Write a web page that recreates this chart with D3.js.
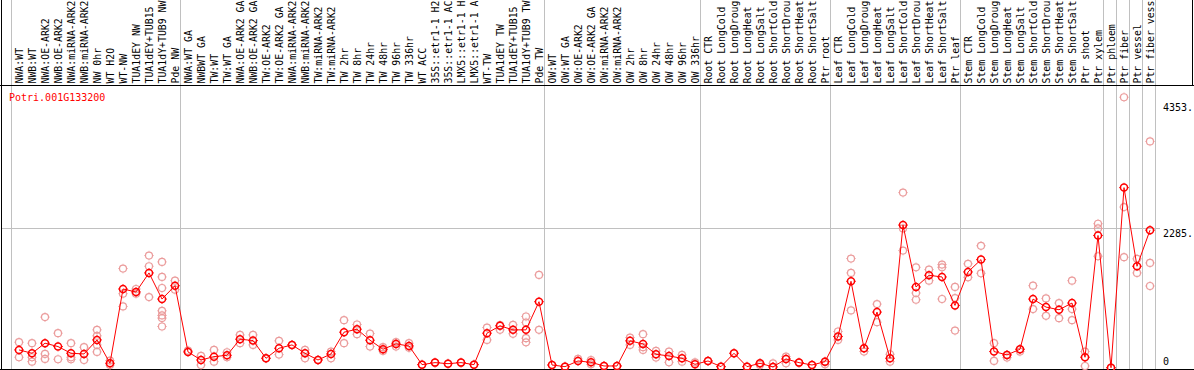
<!DOCTYPE html>
<html>
<head>
<meta charset="utf-8">
<script src="https://cdn.jsdelivr.net/npm/d3@7"></script>
<style>
  body { margin: 0; background: #fff; }
  svg { display: block; }
  text { font-family: "DejaVu Sans Mono", monospace; font-size: 10px; }
</style>
</head>
<body>
<div id="chart"></div>
<script>
const geneId = "Potri.001G133200";

// sample labels as they are printed in the header (cut to 14 characters)
const samples = [
  "NWA:WT", "NWB:WT", "NWA:OE-ARK2", "NWB:OE-ARK2", "NWA:miRNA-ARK2", "NWB:miRNA-ARK2",
  "NW 0hr", "WT H2O", "WT-NW", "TUA1dEY NW", "TUA1dEY+TUB15", "TUA1dY+TUB9 NW", "Pde NW",
  "NWA:WT GA", "NWBWT GA", "TW:WT", "TW:WT GA", "NWA:OE-ARK2 GA", "NWB:OE-ARK2 GA",
  "TW:OE-ARK2", "TW:OE-ARK2 GA", "NWA:miRNA-ARK2", "NWB:miRNA-ARK2", "TW:miRNA-ARK2",
  "TW:miRNA-ARK2", "TW 2hr", "TW 8hr", "TW 24hr", "TW 48hr", "TW 96hr", "TW 336hr", "WT ACC",
  "35S::etr1-1 H2", "35S::etr1-1 AC", "LMX5::etr1-1 H", "LMX5::etr1-1 A", "WT-TW",
  "TUA1dEY TW", "TUA1dEY+TUB15", "TUA1dY+TUB9 TW", "Pde TW",
  "OW:WT", "OW:WT GA", "OW:OE-ARK2", "OW:OE-ARK2 GA", "OW:miRNA-ARK2", "OW:miRNA-ARK2",
  "OW 2hr", "OW 8hr", "OW 24hr", "OW 48hr", "OW 96hr", "OW 336hr",
  "Root CTR", "Root LongCold", "Root LongDroug", "Root LongHeat", "Root LongSalt",
  "Root ShortCold", "Root ShortDrou", "Root ShortHeat", "Root ShortSalt", "Ptr root",
  "Leaf CTR", "Leaf LongCold", "Leaf LongDroug", "Leaf LongHeat", "Leaf LongSalt",
  "Leaf ShortCold", "Leaf ShortDrou", "Leaf ShortHeat", "Leaf ShortSalt", "Ptr leaf",
  "Stem CTR", "Stem LongCold", "Stem LongDroug", "Stem LongHeat", "Stem LongSalt",
  "Stem ShortCold", "Stem ShortDrou", "Stem ShortHeat", "Stem ShortSalt", "Ptr shoot",
  "Ptr xylem", "Ptr phloem", "Ptr fiber", "Ptr vessel", "Ptr fiber vess"
];

const means = [
  296, 241, 406, 351, 241, 230, 460, 77, 1293, 1244, 1556, 1128, 1347,
  263, 131, 186, 208, 471, 449, 159, 323, 378, 241, 131, 230, 586, 635, 455, 307, 394, 361,
  55, 88, 71, 88, 55, 570, 690, 624, 624, 1085,
  49, 22, 115, 93, 33, 33, 444, 394, 225, 197, 159, 60,
  115, 22, 241, 22, 77, 18, 148, 88, 49, 104,
  515, 1419, 323, 915, 159, 2339, 1326, 1517, 1490, 1024,
  1572, 1774, 269, 214, 307, 1128, 997, 953, 1063, 176,
  2169, 5, 2952, 1665, 2256
];

const replicates = [
  [422, 176], [406, 176, 104], [833, 230, 148], [570, 143], [406, 176, 143], [340, 131],
  [624, 526, 378, 263], [121, 49], [1627, 1216, 1007], [1293, 1216], [1840, 1665, 1161],
  [1736, 1490, 1309, 936, 860, 817, 679], [1429, 1282],
  [284], [197, 49], [296, 104], [258, 176], [542, 406], [542, 378], [159], [444, 219], [378],
  [296, 159], [131], [268, 159], [783, 406], [712, 553], [564, 351], [340, 280], [422, 351],
  [406, 330], [55], [88], [71], [88], [55], [662, 460], [700, 624], [707, 560],
  [843, 745, 488, 420], [1523, 624],
  [49], [22], [148], [131, 60], [33], [33], [498, 378], [553, 296, 340], [279, 170], [269, 93],
  [214, 104], [93],
  [115], [22], [241], [22], [77, 49], [18, 77], [186, 77], [88], [49], [104, 60],
  [597, 460], [1791, 1556, 942], [323, 269], [1046, 750], [225, 104], [2870, 2284, 1922],
  [1648, 1227, 1117], [1610, 1429], [1692, 1648, 1129], [1326, 1145, 613],
  [1704, 1484], [2000, 1550], [406, 115], [214, 170], [307, 269], [1347, 964], [1139, 854],
  [1063, 816], [1429, 964, 783], [269, 33],
  [2361, 2284, 1829], [5], [4431, 2634, 1813], [1786, 1556], [3708, 1720, 1342]
];

// sample indices where a grey separator is drawn
const groupBreaks = [0, 13, 41, 53, 63, 73, 84, 85, 86, 87, 88];

const yTicks = [0, 2285, 4353];
const yTickLabels = ["0", "2285.", "4353."];

const width = 1194;
const height = 370;
const headerBottom = 85;

const svg = d3.select("#chart")
  .append("svg")
  .attr("width", width)
  .attr("height", height);

// column scale: 88 columns of 13px
const x = d3.scaleLinear()
  .domain([0, samples.length])
  .range([11, 1155]);

const y = d3.scaleLinear()
  .domain([0, 4353])
  .range([368, 102]);

// grey separators, full height
svg.append("g")
  .selectAll("line")
  .data(groupBreaks)
  .join("line")
  .attr("x1", (d) => x(d) + 0.5)
  .attr("x2", (d) => x(d) + 0.5)
  .attr("y1", 0)
  .attr("y2", height)
  .attr("stroke", "#c0c0c0")
  .attr("stroke-width", 1);

// horizontal grid line for the middle tick only
svg.append("line")
  .attr("x1", 2)
  .attr("x2", 1160)
  .attr("y1", Math.round(y(yTicks[1])) + 0.5)
  .attr("y2", Math.round(y(yTicks[1])) + 0.5)
  .attr("stroke", "#c0c0c0");

// frame
svg.append("line")
  .attr("x1", 1.5).attr("x2", 1.5)
  .attr("y1", 0).attr("y2", height)
  .attr("stroke", "#000");
svg.append("line")
  .attr("x1", 1192.5).attr("x2", 1192.5)
  .attr("y1", 0).attr("y2", headerBottom)
  .attr("stroke", "#000");
svg.append("line")
  .attr("x1", 0).attr("x2", width)
  .attr("y1", headerBottom + 0.5).attr("y2", headerBottom + 0.5)
  .attr("stroke", "#000");
svg.append("line")
  .attr("x1", 0).attr("x2", width)
  .attr("y1", 369.5).attr("y2", 369.5)
  .attr("stroke", "#000");

// rotated sample labels in the header
svg.append("g")
  .selectAll("text")
  .data(samples)
  .join("text")
  .attr("transform", (d, i) => `translate(${x(i) + 12},83.5) rotate(-90)`)
  .attr("text-anchor", "start")
  .style("font-size", "9.85px")
  .attr("fill", "#000")
  .text((d) => d);

// gene id
svg.append("text")
  .attr("x", 9)
  .attr("y", 101)
  .attr("fill", "#ff0000")
  .text(geneId);

// right-hand value labels
svg.append("g")
  .selectAll("text")
  .data(yTicks)
  .join("text")
  .attr("x", 1163)
  .attr("y", (d) => Math.min(y(d) + 9, 365))
  .attr("fill", "#000")
  .text((d, i) => yTickLabels[i]);

const px = (i) => x(i) + 8;
const marker = "M0,-4.8V-3.8M0,3.8V4.8M-4.8,0H-3.8M3.8,0H4.8";

// replicate points
const repPoints = [];
replicates.forEach((vals, i) => vals.forEach((v) => repPoints.push({ i, v })));

const reps = svg.append("g")
  .selectAll("g")
  .data(repPoints)
  .join("g")
  .attr("transform", (d) => `translate(${px(d.i)},${y(d.v)})`);
reps.append("circle")
  .attr("r", 3.5)
  .attr("fill", "none")
  .attr("stroke", "#eb9c9c")
  .attr("stroke-width", 1.2);
reps.append("path")
  .attr("d", marker)
  .attr("stroke", "#eb9c9c")
  .attr("stroke-width", 0.8);

// mean line
const line = d3.line()
  .x((d, i) => px(i))
  .y((d) => y(d));

svg.append("path")
  .datum(means)
  .attr("fill", "none")
  .attr("stroke", "#ff0000")
  .attr("stroke-width", 1)
  .attr("d", line);

// mean points
const mp = svg.append("g")
  .selectAll("g")
  .data(means)
  .join("g")
  .attr("transform", (d, i) => `translate(${px(i)},${y(d)})`);
mp.append("circle")
  .attr("r", 3.5)
  .attr("fill", "none")
  .attr("stroke", "#ff0000")
  .attr("stroke-width", 1.5);
mp.append("path")
  .attr("d", marker)
  .attr("stroke", "#ff0000")
  .attr("stroke-width", 1);
</script>
</body>
</html>
